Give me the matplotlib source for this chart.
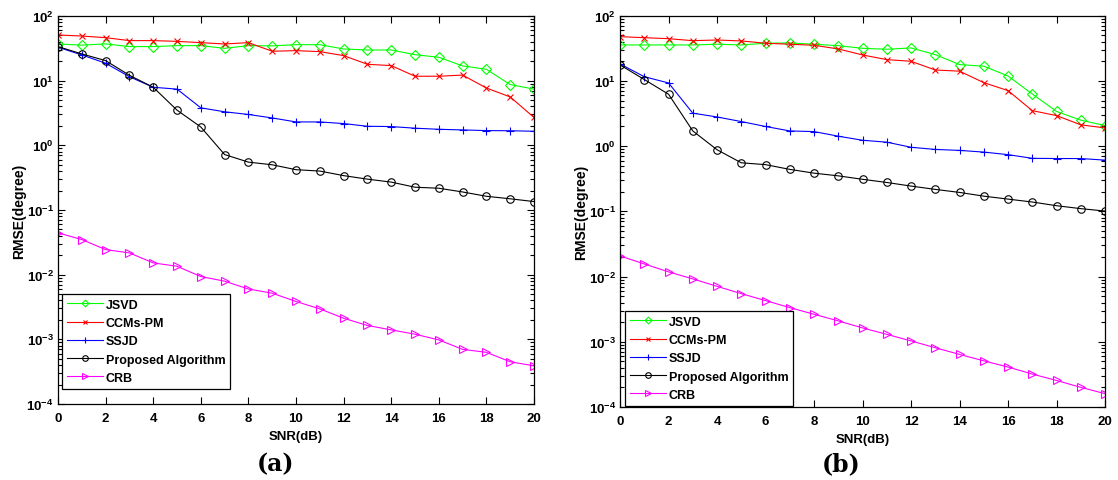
import matplotlib
matplotlib.use("Agg")
import matplotlib.pyplot as plt
from matplotlib.ticker import LogLocator, NullFormatter, FixedLocator, FixedFormatter

plt.rcParams["font.family"] = ["Liberation Sans", "DejaVu Sans"]
plt.rcParams["font.weight"] = "bold"
plt.rcParams["mathtext.fontset"] = "custom"
plt.rcParams["mathtext.rm"] = "Liberation Sans:bold"
plt.rcParams["mathtext.bf"] = "Liberation Sans:bold"

snr = list(range(21))

# panel (a)
jsvd_a = [36.9, 35.4, 37.0, 33.6, 33.6, 34.8, 34.8, 31.6, 34.8, 34.5, 36.0,
          36.0, 30.9, 29.8, 29.8, 25.2, 23.0, 16.9, 15.0, 8.7, 7.4]
ccm_a = [50.8, 49.0, 46.2, 41.6, 41.6, 40.5, 38.7, 36.9, 38.7, 28.5, 29.1,
         28.1, 24.4, 17.9, 17.1, 11.7, 11.7, 12.2, 7.7, 5.6, 2.7]
ssjd_a = [32.8, 25.0, 18.6, 11.5, 7.9, 7.4, 3.8, 3.3, 3.0, 2.65, 2.3,
          2.3, 2.17, 1.97, 1.95, 1.84, 1.77, 1.73, 1.69, 1.68, 1.65]
prop_a = [33.6, 25.9, 20.4, 12.1, 7.9, 3.5, 1.92, 0.72, 0.55, 0.50, 0.42,
          0.40, 0.34, 0.30, 0.27, 0.225, 0.217, 0.19, 0.163, 0.149, 0.135]
crb_a = [0.0443, 0.0349, 0.0244, 0.0217, 0.0152, 0.0135, 0.00935, 0.00793,
         0.0060, 0.00517, 0.00385, 0.00296, 0.00212, 0.00164, 0.0014, 0.0012,
         0.00098, 0.0007, 0.00063, 0.00045, 0.00039]

# panel (b)
jsvd_b = [35.6, 35.6, 35.6, 35.6, 36.5, 35.6, 37.8, 38.2, 36.5, 34.7, 31.6,
          30.6, 32.0, 25.3, 17.8, 16.8, 11.9, 6.3, 3.4, 2.5, 2.07]
ccm_b = [47.7, 46.0, 44.4, 41.4, 42.4, 41.0, 37.8, 36.5, 35.2, 30.9, 25.0,
         21.2, 20.0, 14.7, 14.1, 9.4, 7.1, 3.5, 2.94, 2.12, 1.9]
ssjd_b = [18.2, 11.6, 9.3, 3.2, 2.8, 2.38, 2.0, 1.71, 1.67, 1.42, 1.23,
          1.15, 0.96, 0.89, 0.86, 0.81, 0.74, 0.65, 0.645, 0.645, 0.61]
prop_b = [17.6, 10.5, 6.25, 1.71, 0.88, 0.555, 0.52, 0.44, 0.385, 0.35, 0.31,
          0.277, 0.244, 0.217, 0.195, 0.171, 0.154, 0.139, 0.122, 0.11, 0.101]
crb_b = [0.0207, 0.0156, 0.0118, 0.0092, 0.00708, 0.00547, 0.00428, 0.00334,
         0.00264, 0.00209, 0.00163, 0.0013, 0.00103, 0.00081, 0.00064, 0.00051,
         0.00041, 0.00032, 0.000255, 0.0002, 0.00016]

labels = ["JSVD", "CCMs-PM", "SSJD", "Proposed Algorithm", "CRB"]
styles = [
    dict(color="#00ff00", marker="D", ms=4.6),
    dict(color="#ff0000", marker="x", ms=4.0),
    dict(color="#0000ff", marker="+", ms=5.5),
    dict(color="#000000", marker="o", ms=5.4),
    dict(color="#ff00ff", marker=">", ms=6.0),
]

ytick_vals = [1e-4, 1e-3, 1e-2, 1e-1, 1e0, 1e1, 1e2]
ytick_labels = [r"$\mathbf{10^{-4}}$", r"$\mathbf{10^{-3}}$", r"$\mathbf{10^{-2}}$",
                r"$\mathbf{10^{-1}}$", r"$\mathbf{10^{0}}$", r"$\mathbf{10^{1}}$",
                r"$\mathbf{10^{2}}$"]

fig = plt.figure(figsize=(11.18, 4.81), dpi=100)
fig.patch.set_facecolor("white")


def draw_panel(rect, series, legend_anchor, tag, tag_x):
    ax = fig.add_axes(rect)
    for y, lab, st in zip(series, labels, styles):
        ax.plot(snr, y, color=st["color"], marker=st["marker"], ms=st["ms"],
                mfc="none", mec=st["color"], mew=0.8, lw=0.8, label=lab)
    ax.set_yscale("log")
    ax.set_xlim(0, 20)
    ax.set_ylim(1e-4, 1e2)
    ax.xaxis.set_major_locator(FixedLocator(list(range(0, 21, 2))))
    ax.yaxis.set_major_locator(FixedLocator(ytick_vals))
    ax.yaxis.set_major_formatter(FixedFormatter(ytick_labels))
    ax.yaxis.set_minor_locator(LogLocator(base=10, subs=range(2, 10)))
    ax.yaxis.set_minor_formatter(NullFormatter())
    ax.tick_params(which="both", direction="in", top=True, right=True,
                   labelsize=9.5, width=0.8)
    ax.tick_params(axis="x", pad=6)
    ax.tick_params(axis="y", pad=3)
    ax.tick_params(which="major", length=5)
    ax.tick_params(which="minor", length=3)
    for sp in ax.spines.values():
        sp.set_linewidth(0.9)
    ax.set_xlabel("SNR(dB)", fontsize=9.5, fontweight="bold", labelpad=4)
    ax.set_ylabel("RMSE(degree)", fontsize=10, fontweight="bold", labelpad=0.5)
    leg = ax.legend(loc="lower left", bbox_to_anchor=legend_anchor,
                    borderaxespad=0, fontsize=9, fancybox=False,
                    edgecolor="black", framealpha=1, handlelength=2.9,
                    handletextpad=0.2, labelspacing=0.5, borderpad=0.4,
                    markerscale=0.75)
    leg.get_frame().set_linewidth(0.9)
    fig.text(tag_x, 0.034, tag, ha="center", va="center", fontsize=17,
             fontweight="bold", family="DejaVu Serif")
    return ax


draw_panel([0.0519, 0.158, 0.4257, 0.8067],
           [jsvd_a, ccm_a, ssjd_a, prop_a, crb_a], (0.008, 0.039),
           "(a)", 0.246)
draw_panel([0.5546, 0.1518, 0.4338, 0.8135],
           [jsvd_b, ccm_b, ssjd_b, prop_b, crb_b], (0.010, 0.003),
           "(b)", 0.752)

fig.savefig("out.png", dpi=100)
